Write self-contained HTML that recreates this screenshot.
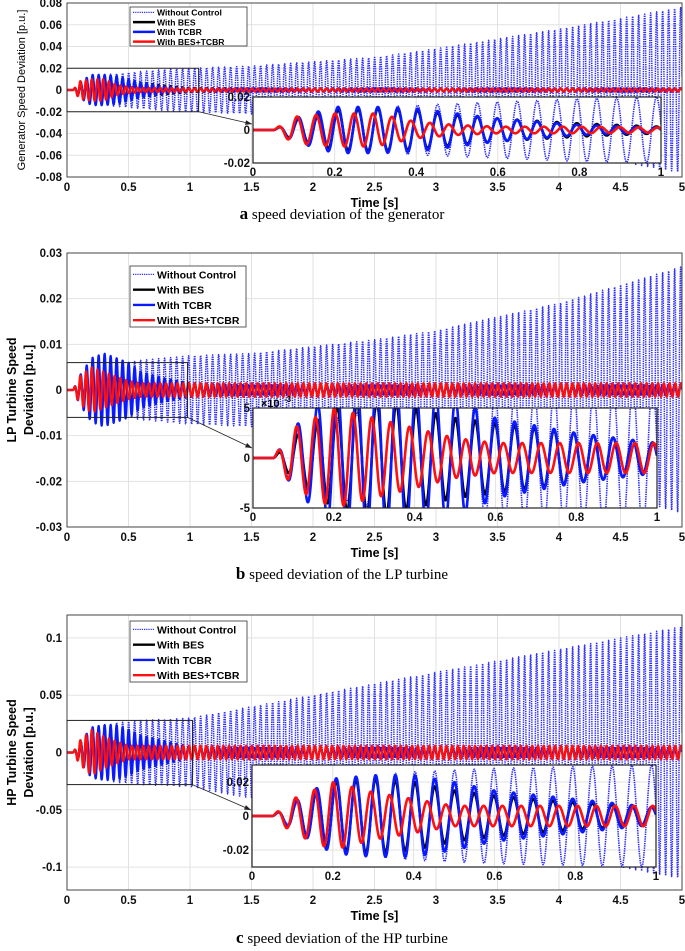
<!DOCTYPE html>
<html><head><meta charset="utf-8">
<style>
html,body{margin:0;padding:0;background:#fff;}
svg{display:block;}
text{font-family:"Liberation Sans",Arial,sans-serif;}
text.cap{font-family:"Liberation Serif","Times New Roman",serif;}
</style></head>
<body>
<svg id="fig" width="685" height="951" viewBox="0 0 685 951" xmlns="http://www.w3.org/2000/svg"></svg>
<script>
// ---- data: envelope sample times (s) and amplitude envelopes (p.u.) ----
const envT = [0, 0.05, 0.1, 0.2, 0.3, 0.4, 0.5, 0.6, 0.8, 1, 1.5, 2, 2.5, 3, 3.5, 4, 4.5, 5];
// panel a: generator
const genNoCtrl = [0, 0, 0.007, 0.012, 0.014, 0.015, 0.016, 0.017, 0.019, 0.02, 0.022, 0.026, 0.03, 0.038, 0.047, 0.056, 0.066, 0.076];
const genBES    = [0, 0, 0.006, 0.012, 0.013, 0.012, 0.009, 0.007, 0.004, 0.002, 0.0015, 0.0015, 0.0015, 0.0015, 0.0015, 0.0015, 0.0015, 0.0015];
const genTCBR   = [0, 0, 0.007, 0.014, 0.014, 0.013, 0.01, 0.007, 0.003, 0.0015, 0.0015, 0.0015, 0.0015, 0.0015, 0.0015, 0.0015, 0.0015, 0.0015];
const genBoth   = [0, 0, 0.008, 0.01, 0.01, 0.005, 0.003, 0.002, 0.002, 0.0015, 0.0015, 0.0015, 0.0015, 0.0015, 0.0015, 0.0015, 0.0015, 0.0015];
// panel b: LP turbine
const lpNoCtrl = [0, 0, 0.002, 0.004, 0.005, 0.006, 0.006, 0.0065, 0.007, 0.0075, 0.008, 0.0095, 0.011, 0.013, 0.016, 0.019, 0.023, 0.027];
const lpBES    = [0, 0, 0.002, 0.005, 0.006, 0.005, 0.004, 0.0035, 0.0025, 0.0015, 0.001, 0.001, 0.001, 0.001, 0.001, 0.001, 0.001, 0.001];
const lpTCBR   = [0, 0, 0.003, 0.007, 0.008, 0.007, 0.006, 0.004, 0.0025, 0.0015, 0.001, 0.001, 0.001, 0.001, 0.001, 0.001, 0.001, 0.001];
const lpBoth   = [0, 0, 0.003, 0.005, 0.004, 0.003, 0.002, 0.0015, 0.0015, 0.0015, 0.0015, 0.0015, 0.0015, 0.0015, 0.0015, 0.0015, 0.0015, 0.0015];
// panel c: HP turbine
const hpNoCtrl = [0, 0, 0.006, 0.02, 0.024, 0.026, 0.027, 0.028, 0.029, 0.03, 0.04, 0.05, 0.06, 0.07, 0.08, 0.09, 0.1, 0.11];
const hpBES    = [0, 0, 0.008, 0.02, 0.022, 0.02, 0.015, 0.012, 0.008, 0.005, 0.004, 0.004, 0.004, 0.004, 0.004, 0.004, 0.004, 0.004];
const hpTCBR   = [0, 0, 0.008, 0.022, 0.024, 0.024, 0.02, 0.015, 0.01, 0.005, 0.004, 0.004, 0.004, 0.004, 0.004, 0.004, 0.004, 0.004];
const hpBoth   = [0, 0, 0.01, 0.02, 0.014, 0.01, 0.006, 0.006, 0.006, 0.006, 0.006, 0.006, 0.006, 0.006, 0.006, 0.006, 0.006, 0.006];
const oscFreq = [20.5, 20.5, 20.5, 21.5]; // Hz: no control, BES, TCBR, BES+TCBR
const legendLabels = ["Without Control", "With BES", "With TCBR", "With BES+TCBR"];
const mainXTicks = [0, 0.5, 1, 1.5, 2, 2.5, 3, 3.5, 4, 4.5, 5];
const insetXTicks = [0, 0.2, 0.4, 0.6, 0.8, 1];
const yTicksA = [-0.08, -0.06, -0.04, -0.02, 0, 0.02, 0.04, 0.06, 0.08];
const yTicksB = [-0.03, -0.02, -0.01, 0, 0.01, 0.02, 0.03];
const yTicksC = [-0.1, -0.05, 0, 0.05, 0.1];

const NS = "http://www.w3.org/2000/svg";
const svg = document.getElementById("fig");
function el(tag, attrs, parent) {
  const e = document.createElementNS(NS, tag);
  for (const k in attrs) e.setAttribute(k, attrs[k]);
  (parent || svg).appendChild(e);
  return e;
}
function interp(xs, ys, x) {
  if (x <= xs[0]) return ys[0];
  for (let i = 1; i < xs.length; i++) {
    if (x <= xs[i]) { const f = (x - xs[i-1]) / (xs[i] - xs[i-1]); return ys[i-1] + f * (ys[i] - ys[i-1]); }
  }
  return ys[ys.length - 1];
}
function sig(env, f, t) {
  const t0 = 0.05;
  if (t < t0) return 0;
  return interp(envT, env, t) * Math.sin(2 * Math.PI * f * (t - t0));
}
const colors = ["#2b2bff", "#000000", "#0a1aff", "#ff1010"];
let clipId = 0;

function drawAxes(g, box, xl, yl, xt, yt, gridOn) {
  const sx = v => box.x + (v - xl[0]) / (xl[1] - xl[0]) * box.w;
  const sy = v => box.y + box.h - (v - yl[0]) / (yl[1] - yl[0]) * box.h;
  el("rect", {x: box.x, y: box.y, width: box.w, height: box.h, fill: "#fff"}, g);
  if (gridOn) {
    xt.forEach(v => el("line", {x1: sx(v), x2: sx(v), y1: box.y, y2: box.y + box.h, stroke: "#e2e2e2", "stroke-width": 1}, g));
    yt.forEach(v => el("line", {x1: box.x, x2: box.x + box.w, y1: sy(v), y2: sy(v), stroke: "#e2e2e2", "stroke-width": 1}, g));
  }
  return {sx, sy};
}
function drawSeries(g, box, sx, sy, envs, tmax, n, lw, dotW) {
  clipId++;
  const cp = el("clipPath", {id: "cp" + clipId}, svg);
  el("rect", {x: box.x, y: box.y, width: box.w, height: box.h}, cp);
  const sg = el("g", {"clip-path": "url(#cp" + clipId + ")"}, g);
  const names = ["no-control-line", "bes-line", "tcbr-line", "bes-tcbr-line"];
  envs.forEach((env, k) => {
    let pts = [];
    for (let i = 0; i <= n; i++) {
      const t = tmax * i / n;
      pts.push(sx(t).toFixed(2) + "," + sy(sig(env, oscFreq[k], t)).toFixed(2));
    }
    const p = el("polyline", {points: pts.join(" "), fill: "none", stroke: colors[k],
      "stroke-width": k === 0 ? dotW : lw, "stroke-dasharray": k === 0 ? "1.4,0.9" : "none", "stroke-linejoin": "round"}, sg);
    
    
  });
}
function ticksText(g, xs, y, fn, anchor, size) {
  xs.forEach(v => {
    const t = el("text", {x: fn(v), y: y, "text-anchor": anchor, "font-size": size, "font-weight": "bold", fill: "#111"}, g);
    t.textContent = String(v);
  });
}

function panel(cfg) {
  const g = el("g", {});
  
  
  const m = cfg.main;
  const ax = drawAxes(g, m, [0, 5], cfg.ylim, mainXTicks, cfg.yticks, true);
  drawSeries(g, m, ax.sx, ax.sy, cfg.envs, 5, 3200, 2.2, 1.5);
  el("rect", {x: m.x, y: m.y, width: m.w, height: m.h, fill: "none", stroke: "#444", "stroke-width": 1}, g);
  const xl = el("g", {}, g);
  
  
  ticksText(xl, mainXTicks, m.y + m.h + 14, ax.sx, "middle", 11.5);
  const yl = el("g", {}, g);
  
  
  cfg.yticks.forEach(v => {
    const t = el("text", {x: m.x - 5, y: ax.sy(v) + 4, "text-anchor": "end", "font-size": 11.5, "font-weight": "bold", fill: "#111"}, yl);
    t.textContent = String(v);
  });
  const xt = el("text", {x: ax.sx(2.5), y: m.y + m.h + 30, "text-anchor": "middle", "font-size": 12.5, "font-weight": "bold"}, g);
  xt.textContent = "Time [s]";
  
  
  cfg.ytitle.forEach((line, i) => {
    const cx = cfg.ytitleX[i], cy = m.y + m.h / 2;
    const t = el("text", {x: cx, y: cy, "text-anchor": "middle", "font-size": cfg.ytitleSize, "font-weight": cfg.ytitleBold ? "bold" : "normal",
      transform: "rotate(-90 " + cx + " " + cy + ")"}, g);
    t.textContent = line;
    
    
  });
  const zb = cfg.zoom;
  const zr = el("rect", {x: ax.sx(0), y: ax.sy(zb.y1), width: ax.sx(zb.x1) - ax.sx(0), height: ax.sy(-zb.y1) - ax.sy(zb.y1), fill: "none", stroke: "#222", "stroke-width": 1}, g);
  
  
  const ins = cfg.inset;
  const x1 = ax.sx(zb.x1), y1 = ax.sy(-zb.y1), x2 = ins.x - 1, y2 = cfg.arrowY;
  const ar = el("line", {x1, y1, x2, y2, stroke: "#222", "stroke-width": 0.8}, g);
  
  
  const ang = Math.atan2(y2 - y1, x2 - x1);
  const ah = 7;
  el("polygon", {points: [x2 + "," + y2,
    (x2 - ah * Math.cos(ang - 0.35)) + "," + (y2 - ah * Math.sin(ang - 0.35)),
    (x2 - ah * Math.cos(ang + 0.35)) + "," + (y2 - ah * Math.sin(ang + 0.35))].join(" "), fill: "#222"}, g);
  const ig = el("g", {}, g);
  
  
  const ia = drawAxes(ig, ins, [0, 1], cfg.insetYlim, insetXTicks, cfg.insetYticks, true);
  drawSeries(ig, ins, ia.sx, ia.sy, cfg.envs, 1, 1400, 2.6, 1.6);
  el("rect", {x: ins.x, y: ins.y, width: ins.w, height: ins.h, fill: "none", stroke: "#222", "stroke-width": 1.2}, ig);
  ticksText(ig, insetXTicks, ins.y + ins.h + 13, ia.sx, "middle", 11.5);
  cfg.insetYticks.forEach((v, i) => {
    const t = el("text", {x: ins.x - 3, y: ia.sy(v) + 4, "text-anchor": "end", "font-size": 11.5, "font-weight": "bold", fill: "#111"}, ig);
    t.textContent = cfg.insetYLabels[i];
  });
  if (cfg.exp) {
    const t = el("text", {x: ins.x + 8, y: ins.y - 1, "font-size": 11, "font-weight": "bold"}, ig);
    t.textContent = "×10";
    const s = el("text", {x: ins.x + 31, y: ins.y - 6, "font-size": 8, "font-weight": "bold"}, ig);
    s.textContent = "-3";
  }
  const L = cfg.legend;
  const lg = el("g", {}, g);
  
  
  el("rect", {x: L.x, y: L.y, width: L.w, height: L.h, fill: "#fff", stroke: "#333", "stroke-width": 0.8}, lg);
  legendLabels.forEach((lab, i) => {
    const yy = L.y + L.h * (i + 0.55) / 4;
    el("line", {x1: L.x + 3, x2: L.x + 25, y1: yy, y2: yy, stroke: colors[i], "stroke-width": i === 0 ? 1.3 : 2.4, "stroke-dasharray": i === 0 ? "1.2,1" : "none"}, lg);
    const t = el("text", {x: L.x + 27, y: yy + L.fs * 0.38, "font-size": L.fs, "font-weight": "bold"}, lg);
    t.textContent = lab;
    
    
  });
  const cap = el("text", {x: 342, y: cfg.capY, "text-anchor": "middle", "font-size": 15, "class": "cap"}, g);
  
  
  const b = el("tspan", {"font-weight": "bold", "font-size": 17}, cap); b.textContent = cfg.capLetter;
  const r = el("tspan", {}, cap); r.textContent = " " + cfg.capText;
}

panel({name: "panel-a-generator", main: {x: 67, y: 3, w: 615, h: 174}, ylim: [-0.08, 0.08], yticks: yTicksA,
  envs: [genNoCtrl, genBES, genTCBR, genBoth],
  ytitle: ["Generator Speed Deviation [p.u.]"], ytitleX: [25], ytitleSize: 11, ytitleBold: false,
  zoom: {x1: 1.07, y1: 0.02}, arrowY: 124,
  inset: {x: 253, y: 97, w: 408, h: 66}, insetYlim: [-0.02, 0.02], insetYticks: [-0.02, 0, 0.02], insetYLabels: ["-0.02", "0", "0.02"],
  legend: {x: 130, y: 7, w: 117, h: 39, fs: 8.6}, capY: 219, capLetter: "a", capText: "speed deviation of the generator"});

panel({name: "panel-b-lp-turbine", main: {x: 67, y: 253, w: 615, h: 274}, ylim: [-0.03, 0.03], yticks: yTicksB,
  envs: [lpNoCtrl, lpBES, lpTCBR, lpBoth],
  ytitle: ["LP Turbine Speed", "Deviation [p.u.]"], ytitleX: [16, 33], ytitleSize: 12.5, ytitleBold: true,
  zoom: {x1: 0.98, y1: 0.006}, arrowY: 448,
  inset: {x: 253, y: 408, w: 404, h: 100}, insetYlim: [-0.005, 0.005], insetYticks: [-0.005, 0, 0.005], insetYLabels: ["-5", "0", "5"], exp: true,
  legend: {x: 130, y: 266, w: 116, h: 61, fs: 10.5}, capY: 579, capLetter: "b", capText: "speed deviation of the  LP turbine"});

panel({name: "panel-c-hp-turbine", main: {x: 67, y: 615, w: 615, h: 275}, ylim: [-0.12, 0.12], yticks: yTicksC,
  envs: [hpNoCtrl, hpBES, hpTCBR, hpBoth],
  ytitle: ["HP Turbine Speed", "Deviation [p.u.]"], ytitleX: [16, 33], ytitleSize: 12.5, ytitleBold: true,
  zoom: {x1: 1.02, y1: 0.028}, arrowY: 810,
  inset: {x: 252, y: 765, w: 404, h: 102}, insetYlim: [-0.03, 0.03], insetYticks: [-0.02, 0, 0.02], insetYLabels: ["-0.02", "0", "0.02"],
  legend: {x: 130, y: 621, w: 117, h: 61, fs: 10.5}, capY: 943, capLetter: "c", capText: "speed deviation of the  HP turbine"});
</script>
</body></html>
